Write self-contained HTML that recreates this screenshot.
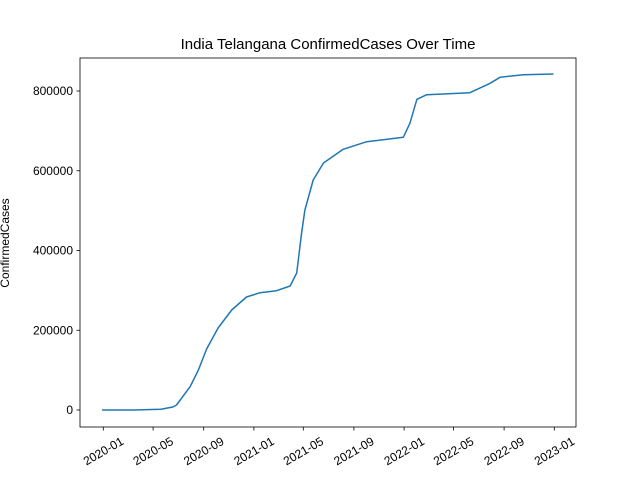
<!DOCTYPE html>
<html><head><meta charset="utf-8"><style>
body{margin:0;background:#fff}
svg{font-family:"Liberation Sans","DejaVu Sans",sans-serif}
</style></head><body>
<svg id="chart" width="640" height="480">
<rect width="640" height="480" fill="#fff"/>
<text x="328" y="49" font-size="15" text-anchor="middle">India Telangana ConfirmedCases Over Time</text>
<text transform="translate(9,243) rotate(-90)" font-size="12" text-anchor="middle">ConfirmedCases</text>
<g id="axes"></g>
<rect x="80" y="58" width="496" height="369" fill="none" stroke="#000" stroke-width="0.8"/>
</svg>
<script>
const dates=["2019-12-29","2020-03-15","2020-05-20","2020-06-18","2020-06-27","2020-07-30","2020-08-19","2020-09-08","2020-10-06","2020-11-08","2020-12-14","2021-01-16","2021-02-25","2021-03-30","2021-04-15","2021-04-27","2021-05-05","2021-05-25","2021-06-19","2021-08-06","2021-10-02","2021-12-30","2022-01-15","2022-02-01","2022-02-25","2022-06-10","2022-07-29","2022-08-22","2022-10-18","2022-12-30"];
const values=[0,0,2000,7500,12500,58400,100300,153000,205600,250800,283400,294200,299200,311000,343600,443900,501600,576800,619400,653800,672900,683900,719000,779200,790700,795700,819300,834400,840800,842600];
const yTicks=[0,200000,400000,600000,800000];
const xTicks=["2020-01","2020-05","2020-09","2021-01","2021-05","2021-09","2022-01","2022-05","2022-09","2023-01"];
const ns="http://www.w3.org/2000/svg";
const g=document.getElementById('axes');
const t0=Date.UTC(2020,0,1), t1=Date.UTC(2023,0,1);
function xs(s){const p=s.split('-');const t=Date.UTC(+p[0],+p[1]-1,p[2]?+p[2]:1);return 103.3+(t-t0)/(t1-t0)*451;}
function ys(v){return 410-v/800000*319;}
function el(n,a){const e=document.createElementNS(ns,n);for(const k in a)e.setAttribute(k,a[k]);g.appendChild(e);return e;}
yTicks.forEach(v=>{const y=ys(v);
 const l=el('line',{x1:76.5,x2:80,y1:y,y2:y,stroke:'#000','stroke-width':0.8});
 
 
 const t=el('text',{x:73,y:y+4,'font-size':12,'text-anchor':'end'});t.textContent=v;
 
 
});
xTicks.forEach(s=>{const x=xs(s);
 const l=el('line',{x1:x,x2:x,y1:427,y2:430.5,stroke:'#000','stroke-width':0.8});
 
 
 const t=el('text',{transform:`translate(${x},${451}) rotate(-30)`,'font-size':12,'text-anchor':'middle',dy:'0.35em'});t.textContent=s;
 
 
});
const d=dates.map((s,i)=>(i?'L':'M')+xs(s).toFixed(1)+','+ys(values[i]).toFixed(1)).join('');
const p=el('path',{d:d,fill:'none',stroke:'#1f77b4','stroke-width':1.5,'stroke-linejoin':'round'});


</script>
</body></html>
